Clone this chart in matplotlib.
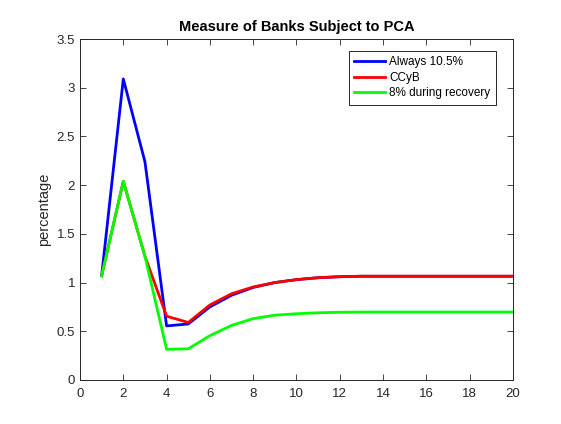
import matplotlib
matplotlib.use("Agg")
import matplotlib.pyplot as plt

periods = list(range(1, 21))
always_105 = [1.07, 3.09, 2.24, 0.555, 0.575, 0.75, 0.87, 0.95, 1.00, 1.03,
              1.05, 1.06, 1.065, 1.065, 1.065, 1.065, 1.065, 1.065, 1.065, 1.065]
ccyb = [1.07, 2.04, 1.27, 0.655, 0.59, 0.77, 0.885, 0.955, 1.00, 1.03,
        1.05, 1.06, 1.065, 1.065, 1.065, 1.065, 1.065, 1.065, 1.065, 1.065]
recovery_8 = [1.07, 2.04, 1.27, 0.315, 0.32, 0.455, 0.56, 0.63, 0.665, 0.68,
              0.69, 0.695, 0.697, 0.697, 0.697, 0.697, 0.697, 0.697, 0.697, 0.697]
series_labels = ["Always 10.5%", "CCyB", "8% during recovery"]

plt.rcParams['font.family'] = ['Liberation Sans', 'DejaVu Sans']

fig = plt.figure(figsize=(5.61, 4.24), dpi=100)
ax = fig.add_axes([0.1426, 0.1038, 0.7718, 0.8042])

ax.plot(periods, always_105, color=(0, 0, 1), lw=2, label=series_labels[0])
ax.plot(periods, ccyb, color=(1, 0, 0), lw=2, label=series_labels[1])
ax.plot(periods, recovery_8, color=(0, 1, 0), lw=2, label=series_labels[2])

ax.set_xlim(0, 20)
ax.set_ylim(0, 3.5)
ax.set_xticks(range(0, 21, 2))
ax.set_yticks([0, 0.5, 1, 1.5, 2, 2.5, 3, 3.5])
ax.set_yticklabels(['0', '0.5', '1', '1.5', '2', '2.5', '3', '3.5'])
ax.tick_params(direction='in', top=True, right=True, labelsize=9.5,
               length=4, width=0.6, colors='#262626')
ax.tick_params(axis='x', pad=6)
for s in ax.spines.values():
    s.set_linewidth(0.7)
    s.set_color('#262626')

ax.set_ylabel('percentage', fontsize=10.5, color='#262626')
ax.set_title('Measure of Banks Subject to PCA', fontsize=10.5, fontweight='bold', pad=6)

leg = ax.legend(loc='upper right', bbox_to_anchor=(0.96, 0.965), fontsize=8.5,
                fancybox=False, framealpha=1, edgecolor='#262626',
                handlelength=2.6, borderpad=0.45, labelspacing=0.3,
                handletextpad=0.35, borderaxespad=0)
leg.get_frame().set_linewidth(0.7)

fig.savefig('out.png', dpi=100)
